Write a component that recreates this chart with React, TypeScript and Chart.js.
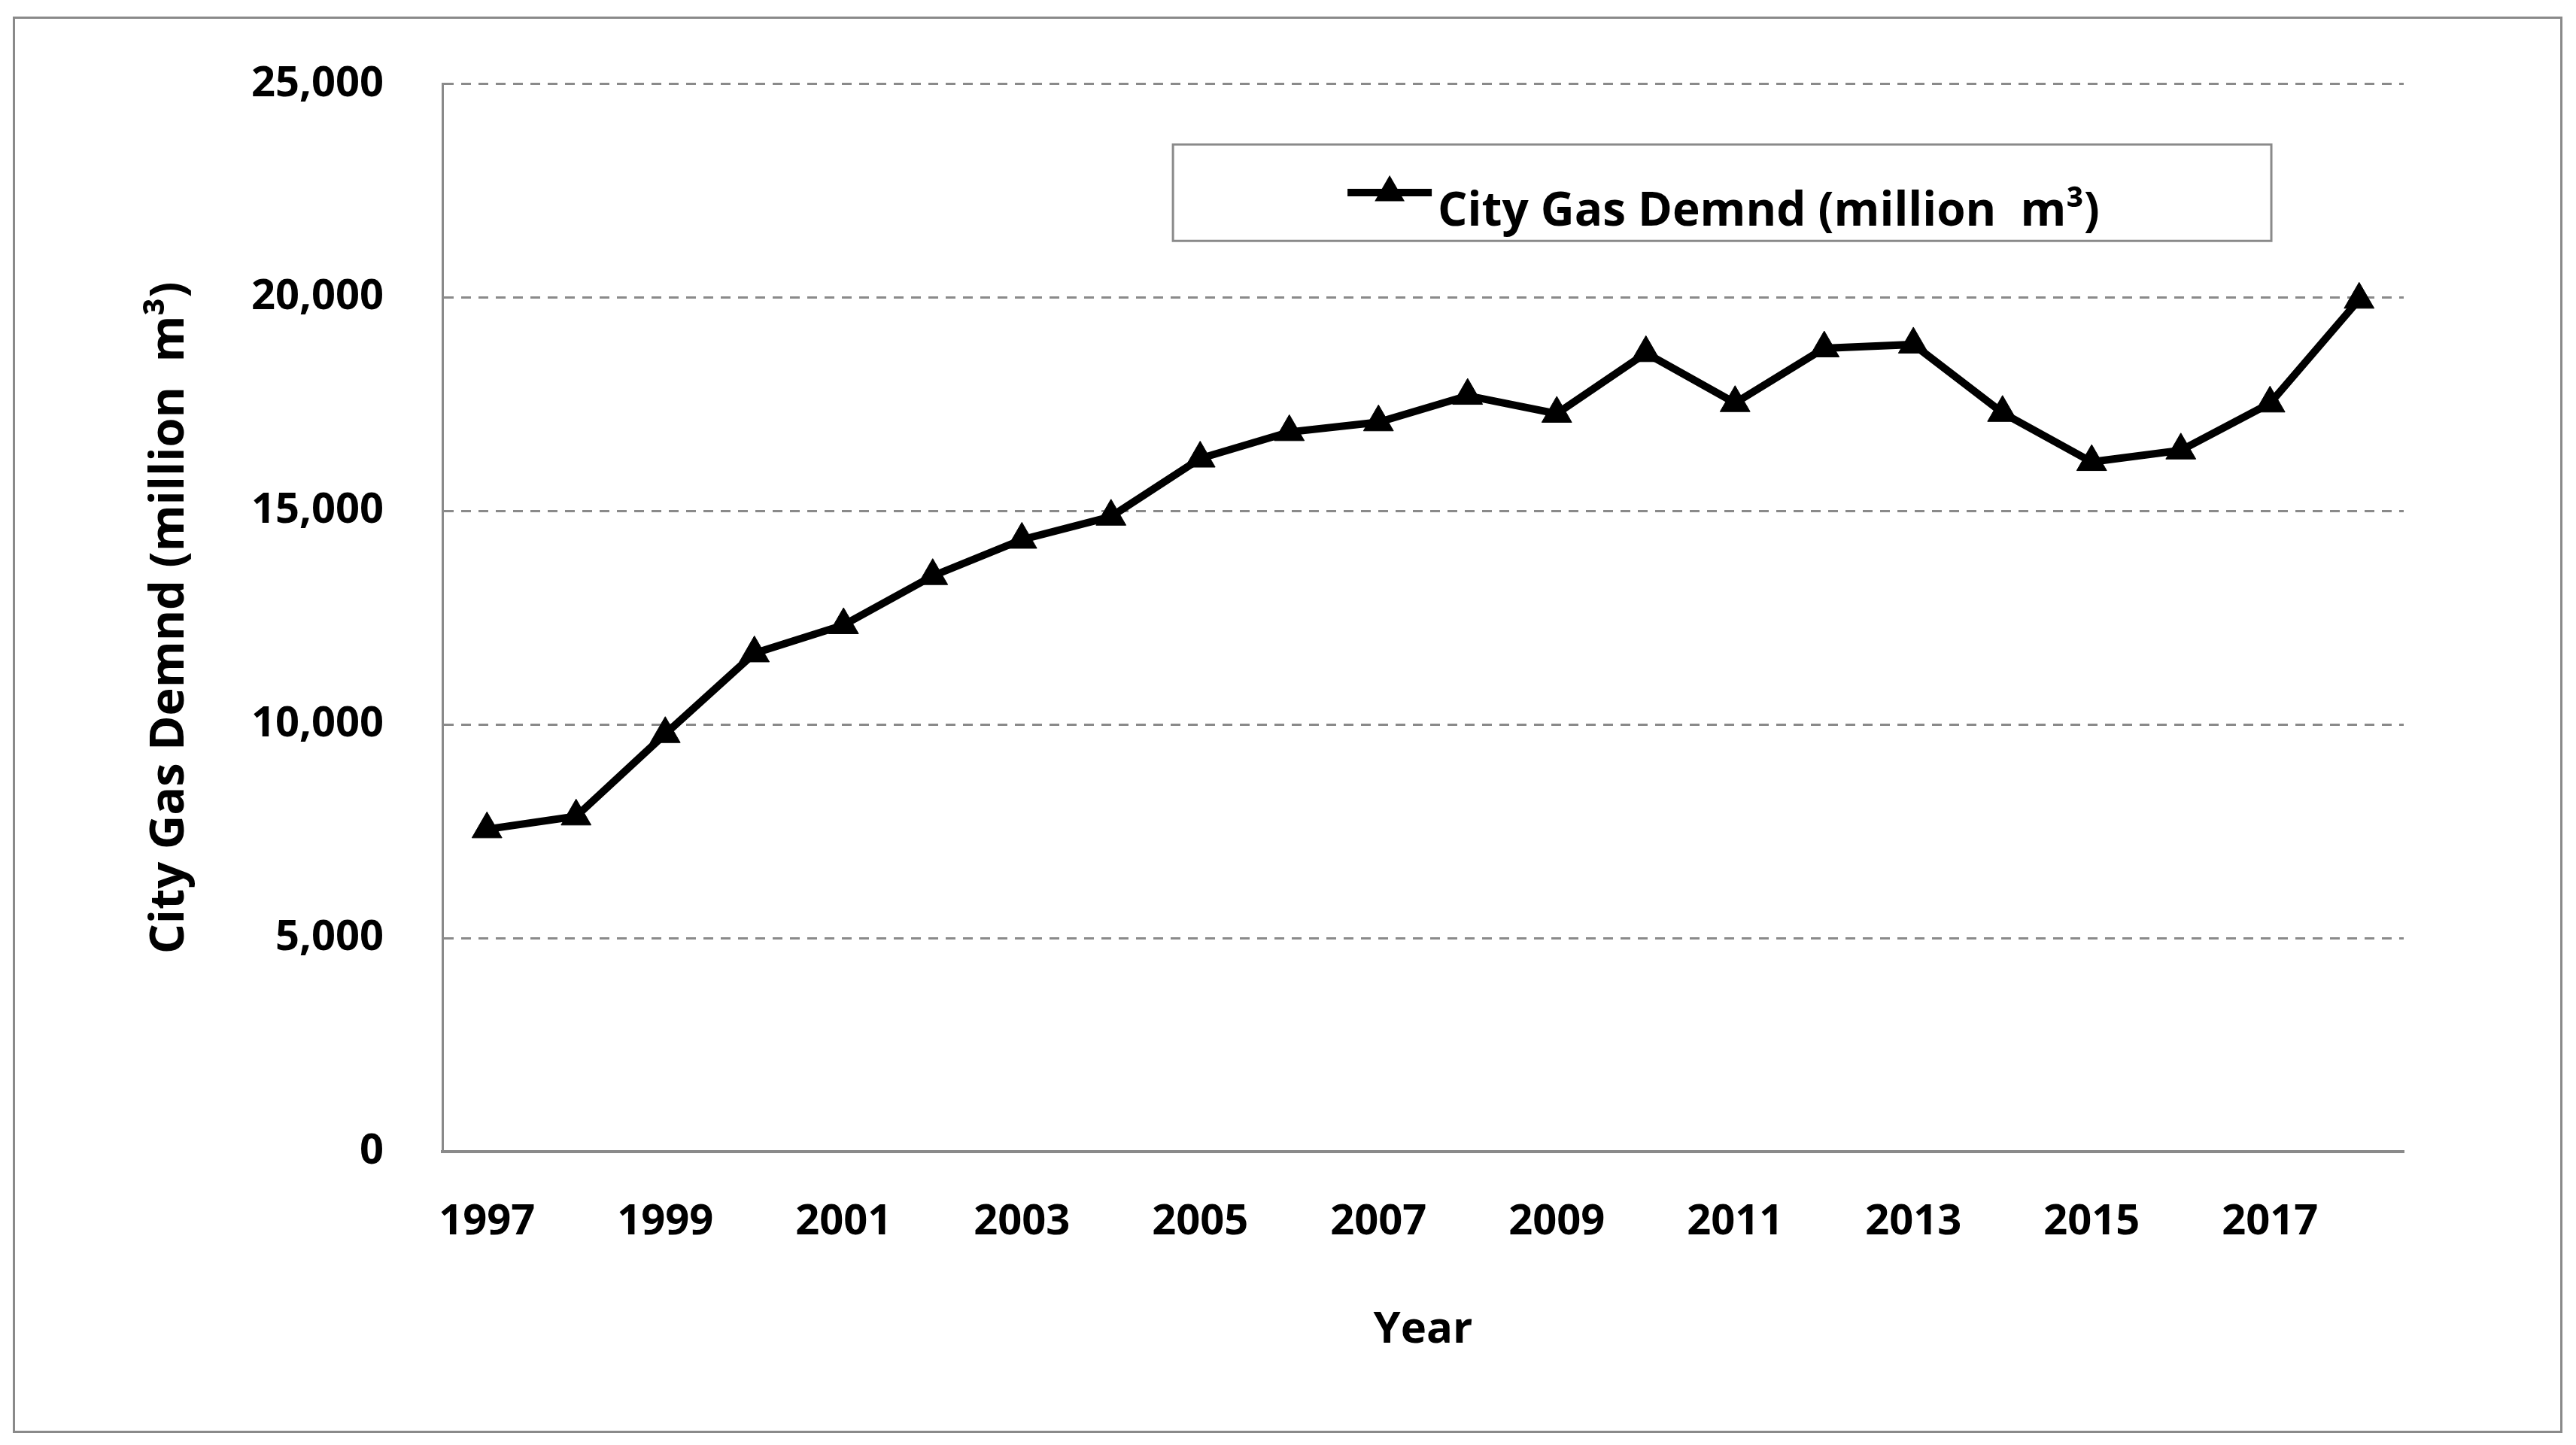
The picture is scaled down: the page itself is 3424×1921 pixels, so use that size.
import { useEffect, useRef } from "react"
import { Chart, registerables } from "chart.js"

Chart.register(...registerables)

// years on the x axis
const years = [
  "1997", "1998", "1999", "2000", "2001", "2002", "2003", "2004", "2005", "2006", "2007",
  "2008", "2009", "2010", "2011", "2012", "2013", "2014", "2015", "2016", "2017", "2018",
]

// city gas demand, million m3
const demand = [
  7550, 7850, 9780, 11670, 12330, 13480, 14330, 14870, 16230, 16850, 17080,
  17700, 17280, 18700, 17530, 18810, 18900, 17300, 16150, 16420, 17520, 19950,
]

const yMin = 0
const yMax = 25000
const yStep = 5000

const seriesLabel = "City Gas Demnd (million  m³)"
const yTitle = "City Gas Demnd (million  m³)"
const xTitle = "Year"

const FONT = "'Open Sans', 'Noto Sans', sans-serif"
const GREY = "#8a8a8a"

// legend drawn in a frame inside the plot, like the original
const legendBox = {
  id: "legendBox",
  afterDraw(chart: any) {
    const { ctx, chartArea } = chart
    const w = chartArea.right - chartArea.left
    const h = chartArea.bottom - chartArea.top
    const left = chartArea.left + w * 0.3725
    const right = chartArea.left + w * 0.9325
    const top = chartArea.top + h * 0.0567
    const bottom = chartArea.top + h * 0.147
    const ds = chart.data.datasets[0]

    ctx.save()
    ctx.fillStyle = "#fff"
    ctx.fillRect(left, top, right - left, bottom - top)
    ctx.strokeStyle = GREY
    ctx.lineWidth = 3
    ctx.strokeRect(left, top, right - left, bottom - top)

    // sample line
    const ly = top + 64
    ctx.strokeStyle = ds.borderColor
    ctx.lineWidth = ds.borderWidth
    ctx.beginPath()
    ctx.moveTo(left + 232, ly)
    ctx.lineTo(left + 344, ly)
    ctx.stroke()

    // triangle marker
    const cx = left + 288
    const r = ds.pointRadius
    ctx.fillStyle = ds.pointBackgroundColor
    ctx.beginPath()
    ctx.moveTo(cx, ly - r)
    ctx.lineTo(cx + r * 0.866, ly + r / 2)
    ctx.lineTo(cx - r * 0.866, ly + r / 2)
    ctx.closePath()
    ctx.fill()

    ctx.fillStyle = "#000"
    ctx.font = `bold 62px ${FONT}`
    ctx.textAlign = "left"
    ctx.textBaseline = "middle"
    ctx.fillText(ds.label, left + 352, top + 90)
    ctx.restore()
  },
}

export default function App() {
  const chartRef = useRef<HTMLCanvasElement>(null)
  const chartInstance = useRef<Chart | null>(null)

  useEffect(() => {
    if (!chartRef.current) return
    if (chartInstance.current) chartInstance.current.destroy()

    const ctx = chartRef.current.getContext("2d")
    if (!ctx) return

    chartInstance.current = new Chart(ctx, {
      type: "line",
      data: {
        labels: years,
        datasets: [
          {
            label: seriesLabel,
            data: demand,
            borderColor: "#000",
            borderWidth: 10,
            pointStyle: "triangle",
            pointRadius: 23,
            pointBackgroundColor: "#000",
            pointBorderColor: "#000",
            pointBorderWidth: 1,
            tension: 0,
          },
        ],
      },
      options: {
        animation: false,
        responsive: true,
        maintainAspectRatio: false,
        layout: {
          padding: { left: 0, right: 229, top: 102, bottom: 0 },
        },
        plugins: {
          legend: { display: false },
          tooltip: { enabled: false },
        },
        scales: {
          x: {
            type: "category",
            offset: true,
            afterFit: (scale: any) => {
              scale.height = 390
            },
            grid: { display: false },
            border: { display: true, color: GREY, width: 4 },
            ticks: {
              autoSkip: false,
              maxRotation: 0,
              padding: 52,
              color: "#000",
              font: { family: FONT, size: 56, weight: "bold" },
              callback: function (this: any, value: any, index: number) {
                return index % 2 === 0 ? this.getLabelForValue(value) : ""
              },
            },
            title: {
              display: true,
              text: xTitle,
              color: "#000",
              font: { family: FONT, size: 58, weight: "bold" },
              padding: { top: 0, bottom: 118 },
            },
          },
          y: {
            min: yMin,
            max: yMax,
            afterFit: (scale: any) => {
              scale.width = 588
            },
            grid: {
              color: (c: any) => (c.tick && c.tick.value === 0 ? "rgba(0,0,0,0)" : GREY),
              lineWidth: 3,
              drawTicks: false,
            },
            border: { display: true, color: GREY, width: 3, dash: [13, 10] },
            ticks: {
              stepSize: yStep,
              padding: 78,
              color: "#000",
              font: { family: FONT, size: 56, weight: "bold" },
              callback: (value: any) => Number(value).toLocaleString("en-US"),
            },
            title: {
              display: true,
              text: yTitle,
              color: "#000",
              font: { family: FONT, size: 63, weight: "bold" },
              padding: { top: 188, bottom: 0 },
            },
          },
        },
      },
      plugins: [legendBox],
    })

    return () => {
      if (chartInstance.current) {
        chartInstance.current.destroy()
        chartInstance.current = null
      }
    }
  }, [])

  return (
    <div style={{ position: "fixed", left: 0, top: 0, width: 3424, height: 1921, background: "#fff" }}>
      <canvas ref={chartRef} />
      {/* outer frame */}
      <div
        style={{
          position: "absolute",
          left: 17,
          top: 22,
          width: 3389,
          height: 1883,
          border: `3px solid ${GREY}`,
          boxSizing: "border-box",
          pointerEvents: "none",
        }}
      />
    </div>
  )
}
